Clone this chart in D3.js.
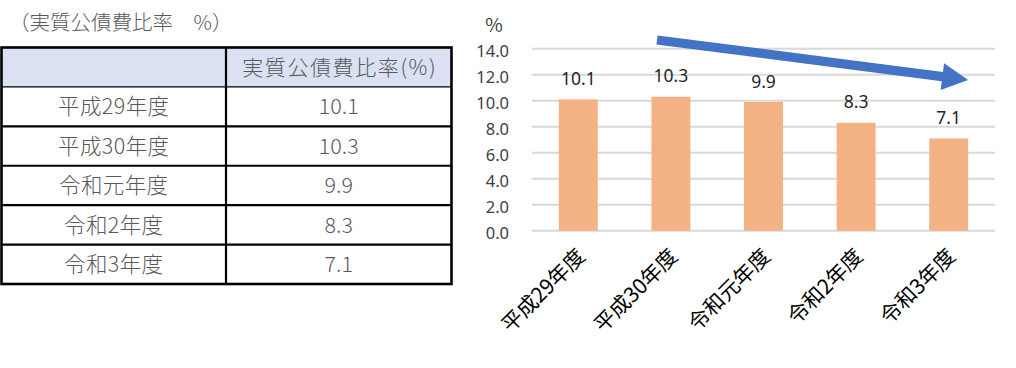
<!DOCTYPE html>
<html>
<head>
<meta charset="utf-8">
<script src="https://cdn.jsdelivr.net/npm/d3@7"></script>
<style>
  html, body { margin: 0; padding: 0; background: #fff; }
  svg { display: block; }
</style>
</head>
<body>
<svg id="root" width="1016" height="368"></svg>
<script>
// ---------- data ----------
const categories = ["平成29年度", "平成30年度", "令和元年度", "令和2年度", "令和3年度"];
const values = [10.1, 10.3, 9.9, 8.3, 7.1];
const valueLabels = ["10.1", "10.3", "9.9", "8.3", "7.1"];
const yTicks = [0, 2, 4, 6, 8, 10, 12, 14];
const tableTitle = "（実質公債費比率　%）";
const tableHeader = "実質公債費比率(%)";
const yUnit = "%";
// trend arrow, in category-index / value units
const arrowFrom = { idx: 0.85, value: 14.67 };
const arrowTo = { idx: 4.21, value: 11.6 };

// ---------- drawing ----------
const svg = d3.select("#root");
svg.append("rect").attr("width", 1016).attr("height", 368).attr("fill", "#fff");

const jp = "'Noto Sans CJK JP', 'Noto Sans', sans-serif";
const num = "'Noto Sans', 'Liberation Sans', sans-serif";

// ---- table ----
const tbl = svg.append("g");
tbl.append("text")
  .attr("x", 9).attr("y", 30)
  .attr("font-family", jp).attr("font-size", 20.5).attr("font-weight", 300)
  .attr("fill", "#595959")
  .text(tableTitle);

const tLeft = 1.5, tRight = 451.5, tMid = 226;
const rowY = d3.scaleLinear().domain([0, categories.length + 1]).range([47.5, 284]);
// header background
tbl.append("rect")
  .attr("x", tLeft).attr("y", rowY(0))
  .attr("width", tRight - tLeft).attr("height", rowY(1) - rowY(0))
  .attr("fill", "#D9E1F2");
tbl.append("text")
  .attr("x", (tMid + tRight) / 2 + 1).attr("y", (rowY(0) + rowY(1)) / 2)
  .attr("dy", "0.35em").attr("text-anchor", "middle")
  .attr("font-family", jp).attr("font-size", 21).attr("font-weight", 300)
  .attr("fill", "#595959").attr("letter-spacing", 1.6)
  .text(tableHeader);

categories.forEach((c, i) => {
  const yc = (rowY(i + 1) + rowY(i + 2)) / 2;
  tbl.append("text")
    .attr("x", (tLeft + tMid) / 2).attr("y", yc).attr("dy", "0.36em")
    .attr("text-anchor", "middle")
    .attr("font-family", jp).attr("font-size", 21.5).attr("font-weight", 300)
    .attr("fill", "#595959").attr("letter-spacing", 0.4).text(c);
  tbl.append("text")
    .attr("x", (tMid + tRight) / 2).attr("y", yc).attr("dy", "0.36em")
    .attr("text-anchor", "middle")
    .attr("font-family", jp).attr("font-size", 21.5).attr("font-weight", 300)
    .attr("fill", "#595959").text(valueLabels[i]);
});
// horizontal rules
for (let r = 1; r <= categories.length; r++) {
  tbl.append("line")
    .attr("x1", tLeft).attr("x2", tRight)
    .attr("y1", rowY(r)).attr("y2", rowY(r))
    .attr("stroke", "#000").attr("stroke-width", r === 1 ? 1.2 : 2.2);
}
tbl.append("line")
  .attr("x1", tMid).attr("x2", tMid).attr("y1", rowY(0)).attr("y2", rowY(categories.length + 1))
  .attr("stroke", "#000").attr("stroke-width", 2.2);
tbl.append("rect")
  .attr("x", tLeft).attr("y", rowY(0))
  .attr("width", tRight - tLeft).attr("height", rowY(categories.length + 1) - rowY(0))
  .attr("fill", "none").attr("stroke", "#000").attr("stroke-width", 2.6);

// ---- bar chart ----
const x = d3.scaleBand().domain(categories).range([532, 995]).paddingInner(0.58).paddingOuter(0.29);
const y = d3.scaleLinear().domain([0, 14]).range([230.7, 48.7]);

const chart = svg.append("g");
// gridlines
chart.selectAll("line.grid").data(yTicks).join("line")
  .attr("class", "grid")
  .attr("x1", 532).attr("x2", 995)
  .attr("y1", d => y(d)).attr("y2", d => y(d))
  .attr("stroke", "#D9D9D9").attr("stroke-width", 2);

// y axis via d3.axisLeft
const yAxis = d3.axisLeft(y).tickValues(yTicks).tickFormat(d3.format(".1f")).tickSize(0).tickPadding(0);
const yg = chart.append("g").attr("transform", "translate(509,0)").call(yAxis);
yg.select(".domain").remove();
yg.selectAll("text")
  .attr("font-family", num).attr("font-size", 16.5)
  .attr("fill", "#404040").attr("dy", "0.48em");

chart.append("text")
  .attr("x", 494).attr("y", 32).attr("text-anchor", "middle")
  .attr("font-family", jp).attr("font-size", 19).attr("fill", "#404040")
  .text(yUnit);

// bars
chart.selectAll("rect.bar").data(values).join("rect")
  .attr("class", "bar")
  .attr("x", (d, i) => x(categories[i]))
  .attr("y", d => y(d))
  .attr("width", x.bandwidth())
  .attr("height", d => y(0) - y(d))
  .attr("fill", "#F4B183");

// data labels
chart.selectAll("text.dl").data(values).join("text")
  .attr("class", "dl")
  .attr("x", (d, i) => x(categories[i]) + x.bandwidth() / 2)
  .attr("y", d => y(d) - 14.5)
  .attr("text-anchor", "middle")
  .attr("font-family", num).attr("font-size", 17.5).attr("fill", "#262626")
  .text((d, i) => valueLabels[i]);

// x axis labels (rotated)
const xAxis = d3.axisBottom(x).tickSize(0).tickPadding(0);
const xg = chart.append("g").attr("transform", `translate(0,${y(0)})`).call(xAxis);
xg.select(".domain").remove();
xg.selectAll(".tick text")
  .attr("font-family", jp).attr("font-size", 21).attr("fill", "#000")
  .attr("text-anchor", "end")
  .attr("dy", 0).attr("y", 0)
  .attr("transform", "translate(8,27) rotate(-45)");

// trend arrow
const cx = i => x(categories[0]) + x.bandwidth() / 2 + i * x.step();
const p0 = [cx(arrowFrom.idx), y(arrowFrom.value)];
const p1 = [cx(arrowTo.idx), y(arrowTo.value)];
const ang = Math.atan2(p1[1] - p0[1], p1[0] - p0[0]);
const headLen = 26, headHalf = 13.5, shaftHalf = 4.6;
const ux = Math.cos(ang), uy = Math.sin(ang), nx = -uy, ny = ux;
const b = [p1[0] - ux * headLen, p1[1] - uy * headLen];
const pts = [
  [p0[0] + nx * shaftHalf, p0[1] + ny * shaftHalf],
  [b[0] + nx * shaftHalf, b[1] + ny * shaftHalf],
  [b[0] + nx * headHalf, b[1] + ny * headHalf],
  p1,
  [b[0] - nx * headHalf, b[1] - ny * headHalf],
  [b[0] - nx * shaftHalf, b[1] - ny * shaftHalf],
  [p0[0] - nx * shaftHalf, p0[1] - ny * shaftHalf]
];
chart.append("path")
  .attr("d", d3.line()(pts) + "Z")
  .attr("fill", "#4472C4");
</script>
</body>
</html>
